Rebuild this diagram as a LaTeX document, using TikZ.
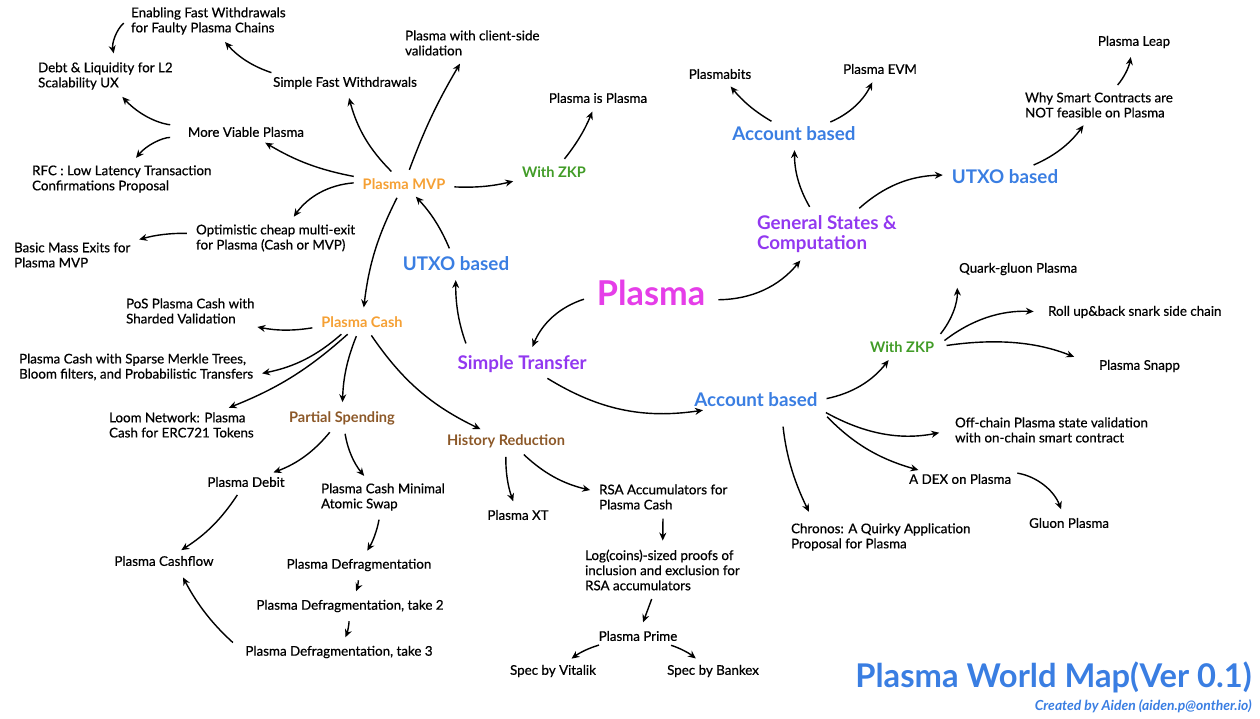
\documentclass[tikz,border=0pt]{standalone}
\usepackage{fontspec}
\setmainfont{Lato}
\newfontfamily\leaffont{Lato}[FakeBold=0.6]
\usetikzlibrary{arrows.meta}
\definecolor{pinkc}{RGB}{229,62,232}
\definecolor{purplec}{RGB}{146,56,240}
\definecolor{bluec}{RGB}{58,126,226}
\definecolor{orangec}{RGB}{245,160,52}
\definecolor{greenc}{RGB}{66,156,40}
\definecolor{brownc}{RGB}{140,88,40}

\begin{document}
\begin{tikzpicture}[x=0.02cm,y=-0.02cm,
  leaf/.style={font=\leaffont\fontsize{7.6}{8.6}\selectfont, inner sep=1pt, align=left},
  topic/.style={font=\fontsize{10.7}{11.8}\selectfont\bfseries, inner sep=1pt, align=left},
  sub/.style={font=\fontsize{8.3}{10}\selectfont\bfseries, inner sep=1pt},
  arr/.style={-{Stealth[length=4.5pt,width=4pt]}, line width=0.8pt, shorten <=4pt, shorten >=4pt}]
\useasboundingbox (0,0) rectangle (1260,719);

\node[font=\fontsize{19.5}{22}\selectfont\bfseries, text=pinkc] (plasma) at (651,293) {Plasma};
\node[topic, text=purplec] (simple) at (522,364) {Simple Transfer};
\node[topic, text=purplec, anchor=west] (general) at (755,234) {General States \&\\Computation};
\node[topic, text=bluec] (utxoL) at (456,264) {UTXO based};
\node[topic, text=bluec] (acctT) at (794,134) {Account based};
\node[topic, text=bluec] (utxoR) at (1005,177) {UTXO based};
\node[topic, text=bluec] (acctB) at (756,400) {Account based};
\node[sub, text=orangec] (mvp) at (404,184) {Plasma MVP};
\node[sub, text=orangec] (cash) at (362,322) {Plasma Cash};
\node[sub, text=greenc] (zkpL) at (554,172) {With ZKP};
\node[sub, text=greenc] (zkpR) at (902,347) {With ZKP};
\node[sub, text=brownc] (partial) at (342,418) {Partial Spending};
\node[sub, text=brownc] (history) at (506,441) {History Reduction};

\node[leaf, anchor=west] (enabling) at (129,21) {Enabling Fast Withdrawals\\for Faulty Plasma Chains};
\node[leaf, anchor=west] (debt) at (36,76) {Debt \& Liquidity for L2\\Scalability UX};
\node[leaf, anchor=west] (client) at (403,43) {Plasma with client-side\\validation};
\node[leaf] (sfw) at (345,83) {Simple Fast Withdrawals};
\node[leaf] (viable) at (246,132) {More Viable Plasma};
\node[leaf, anchor=west] (rfc) at (30,179) {RFC : Low Latency Transaction\\Confirmations Proposal};
\node[leaf, anchor=west] (optimistic) at (194,238) {Optimistic cheap multi-exit\\for Plasma (Cash or MVP)};
\node[leaf, anchor=west] (basic) at (12,255) {Basic Mass Exits for\\Plasma MVP};
\node[leaf] (isplasma) at (598,98) {Plasma is Plasma};
\node[leaf] (bits) at (720,74) {Plasmabits};
\node[leaf] (evm) at (880,69) {Plasma EVM};
\node[leaf] (leap) at (1134,42) {Plasma Leap};
\node[leaf, anchor=west] (why) at (1023,105) {Why Smart Contracts are\\NOT feasible on Plasma};
\node[leaf, anchor=west] (quark) at (957,269) {Quark-gluon Plasma};
\node[leaf, anchor=west] (rollup) at (1046,312) {Roll up\&back snark side chain};
\node[leaf, anchor=west] (snapp) at (1097,366) {Plasma Snapp};
\node[leaf, anchor=west] (offchain) at (953,430) {Off-chain Plasma state validation\\with on-chain smart contract};
\node[leaf, anchor=west] (dex) at (907,479) {A DEX on Plasma};
\node[leaf, anchor=west] (gluon) at (1027,523) {Gluon Plasma};
\node[leaf, anchor=west] (chronos) at (789,537) {Chronos: A Quirky Application\\Proposal for Plasma};
\node[leaf, anchor=west] (pos) at (124,311) {PoS Plasma Cash with\\Sharded Validation};
\node[leaf, anchor=west] (sparse) at (17,367) {Plasma Cash with Sparse Merkle Trees,\\Bloom filters, and Probabilistic Transfers};
\node[leaf, anchor=west] (loom) at (107,425) {Loom Network: Plasma\\Cash for ERC721 Tokens};
\node[leaf] (debit) at (246,482) {Plasma Debit};
\node[leaf, anchor=west] (swap) at (319,497) {Plasma Cash Minimal\\Atomic Swap};
\node[leaf] (cashflow) at (164,561) {Plasma Cashflow};
\node[leaf] (defrag) at (359,565) {Plasma Defragmentation};
\node[leaf] (defragb) at (350,606) {Plasma Defragmentation, take 2};
\node[leaf] (defragc) at (339,652) {Plasma Defragmentation, take 3};
\node[leaf] (xt) at (518,515) {Plasma XT};
\node[leaf, anchor=west] (rsa) at (597,497) {RSA Accumulators for\\Plasma Cash};
\node[leaf, anchor=west] (logcoins) at (583,570) {Log(coins)-sized proofs of\\inclusion and exclusion for\\RSA accumulators};
\node[leaf] (prime) at (638,636) {Plasma Prime};
\node[leaf] (vitalik) at (553,671) {Spec by Vitalik};
\node[leaf] (bankex) at (713,671) {Spec by Bankex};

\node[font=\fontsize{18.6}{20}\selectfont\bfseries, text=bluec, anchor=east, inner sep=0pt] (title) at (1252,677) {Plasma World Map(Ver 0.1)};
\node[font=\fontsize{7.9}{9}\selectfont\bfseries\itshape, text=bluec, anchor=east, inner sep=0pt] (credit) at (1252,706) {Created by Aiden (aiden.p@onther.io)};

\draw[arr] (plasma) to[bend right=25] (simple);
\draw[arr] (plasma) to[bend right=25] (general);
\draw[arr, shorten <=6pt] ([xshift=8pt]simple.north west) to[bend left=10] (utxoL);
\draw[arr] (simple) to[bend right=20] (acctB);
\draw[arr] (utxoL) to[bend right=10] (mvp);
\draw[arr] (mvp) to[bend right=8] (zkpL);
\draw[arr] (zkpL) to[bend right=8] (isplasma);
\draw[arr] (mvp) to[bend left=5] (client);
\draw[arr] (mvp) to[bend left=15] (sfw);
\draw[arr] ([xshift=4pt]sfw.north west) to[bend left=15] (enabling);
\draw[arr] (mvp) to[bend left=10] (viable);
\draw[arr, shorten <=9pt] ([yshift=3pt]viable.west) to[bend left=20] (debt);
\draw[arr] (enabling) to[bend right=30] (debt);
\draw[arr, shorten <=9pt] ([yshift=-3pt]viable.west) to[bend right=25] (rfc);
\draw[arr] (mvp) to[bend right=25] (optimistic);
\draw[arr] (optimistic) to[bend right=8] (basic);
\draw[arr] (mvp) to[bend right=10] (cash);
\draw[arr] (cash) to[bend left=10] (pos);
\draw[arr] (cash) to[bend left=15] (sparse);
\draw[arr] (cash) to[bend left=10] (loom);
\draw[arr] (cash) to[bend right=10] (partial);
\draw[arr] (cash) to[bend right=15] (history);
\draw[arr] (partial) to[bend left=15] (debit);
\draw[arr] (partial) to[bend right=15] (swap);
\draw[arr] (debit) to[bend left=12] (cashflow);
\draw[arr] (swap) to[bend left=10] (defrag);
\draw[arr] (defrag) to[bend left=10] (defragb);
\draw[arr] (defragb) to[bend left=10] (defragc);
\draw[arr, shorten <=8pt, shorten >=6pt] (defragc.west) to[bend left=10] ([xshift=8pt]cashflow.south);
\draw[arr] (history) to[bend right=10] (xt);
\draw[arr] (history) to[bend right=15] (rsa);
\draw[arr] (rsa) to (logcoins);
\draw[arr] (logcoins) to (prime);
\draw[arr] (prime) to[bend right=10] (vitalik);
\draw[arr] (prime) to[bend left=10] (bankex);
\draw[arr] (general) to[bend left=15] (acctT);
\draw[arr] (general) to[bend left=20] (utxoR);
\draw[arr] (acctT) to[bend left=10] (bits);
\draw[arr] (acctT) to[bend right=20] (evm);
\draw[arr] (utxoR) to[bend right=15] (why);
\draw[arr] (why) to[bend right=15] (leap);
\draw[arr] (acctB) to[bend right=20] (zkpR);
\draw[arr, shorten >=6pt] (zkpR.north east) to[bend right=20] (quark.south west);
\draw[arr, shorten <=6pt, shorten >=7pt] (zkpR.east) to[bend left=20] (rollup.west);
\draw[arr, shorten <=6pt, shorten >=14pt] (zkpR.east) to[bend left=15] (snapp.west);
\draw[arr, shorten >=8pt] (acctB.south east) to[bend right=20] (offchain.west);
\draw[arr, shorten <=6pt] (acctB.south east) to[bend right=15] (dex);
\draw[arr, shorten <=10pt, shorten >=6pt] (acctB.-20) to[bend right=10] ([xshift=14pt]chronos.north west);
\draw[arr] (dex) to[bend left=30] (gluon);
\end{tikzpicture}
\end{document}
